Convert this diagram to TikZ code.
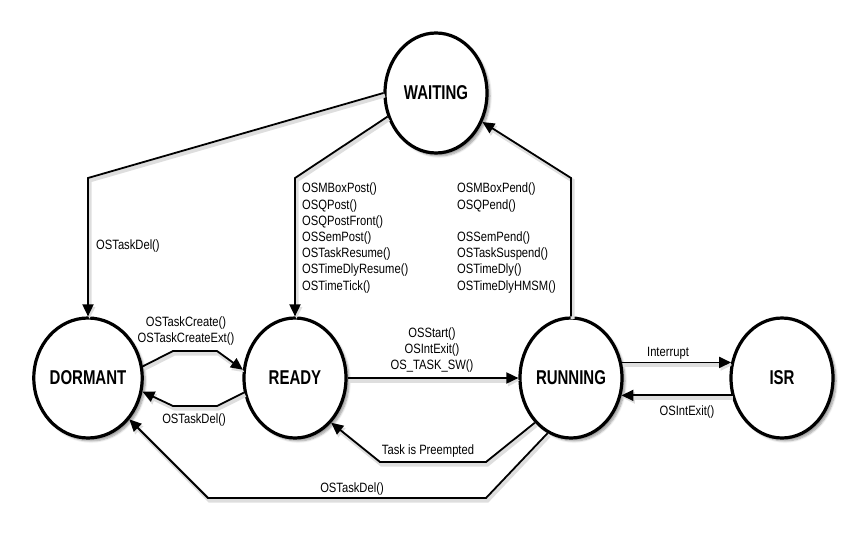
\documentclass[tikz,border=0pt]{standalone}
\usepackage{fontspec}
\setmainfont{Liberation Sans}
\newfontfamily\labelfont[FakeStretch=0.83]{Liberation Sans}
\newfontfamily\statefont[UprightFont={* Bold}, FakeStretch=0.75]{Liberation Sans}
\usetikzlibrary{shapes, positioning, arrows.meta, shadows.blur}

\tikzset{
  state/.style={ellipse, draw, line width=3.2pt, fill=white, minimum width=102pt, minimum height=120pt, inner sep=0pt,
    font=\statefont\fontsize{20}{24}\selectfont,
    blur shadow={shadow xshift=3pt, shadow yshift=-3pt, shadow blur steps=6, shadow opacity=40}},
  conn/.style={line width=1.8pt, -{Triangle[length=12pt, width=11pt]},
    preaction={draw=black!13, line width=4pt, transform canvas={shift={(1.5pt,-2.5pt)}}}},
  lbl/.style={font=\labelfont\fontsize{13.5}{16.2}\selectfont, inner sep=0pt}
}

\begin{document}
\begin{tikzpicture}[x=1pt, y=-1pt]
        \useasboundingbox (0,0) rectangle (854,559);
        % task states
        \node[state] (wait) at (436,93) {WAITING};
        \node[state] (dorm) at (88,378) {DORMANT};
        \node[state] (ready) at (295,378) {READY};
        \node[state] (run) at (571,378) {RUNNING};
        \node[state] (isr) at (782,378) {ISR};

        % transitions
        \draw[conn] (wait.180) -- (88,178) -- (dorm.north);
        \draw[conn] (wait.206) -- (295,178) -- (ready.north);
        \draw[conn] (run.north) -- (571,178) -- (wait.328);
        \draw[conn] (dorm.12) -- (173,351) -- (217,351) -- (ready.171);
        \draw[conn] (ready.196) -- (217,406) -- (173,406) -- (dorm.346);
        \draw[conn] (ready) -- (run);
        \draw[conn] (run.17) -- (isr.163);
        \draw[conn] (isr.199) -- (run.341);
        \draw[conn] (run.231) -- (486,462) -- (380,462) -- (ready.309);
        \draw[conn] (run.247) -- (486,498) -- (208,498) -- (dorm.315);

        % labels
        \node[lbl, anchor=west] (delwait) at (96,246) {OSTaskDel()};
        \node[lbl, anchor=north west, align=left] (postlist) at (302,183)
            {OSMBoxPost()\\OSQPost()\\OSQPostFront()\\OSSemPost()\\OSTaskResume()\\OSTimeDlyResume()\\OSTimeTick()};
        \node[lbl, anchor=north west, align=left] (pendlist) at (457,183)
            {OSMBoxPend()\\OSQPend()\\[16.2pt]OSSemPend()\\OSTaskSuspend()\\OSTimeDly()\\OSTimeDlyHMSM()};
        \node[lbl, align=center] (createlbl) at (186,331) {OSTaskCreate()\\OSTaskCreateExt()};
        \node[lbl] (delready) at (194,420) {OSTaskDel()};
        \node[lbl, align=center] (startlbl) at (432,350) {OSStart()\\OSIntExit()\\OS\_TASK\_SW()};
        \node[lbl] (intlbl) at (668,353) {Interrupt};
        \node[lbl] (exitlbl) at (687,412) {OSIntExit()};
        \node[lbl] (preemptlbl) at (428,451) {Task is Preempted};
        \node[lbl] (delrun) at (352,489) {OSTaskDel()};
    \end{tikzpicture}
\end{document}
